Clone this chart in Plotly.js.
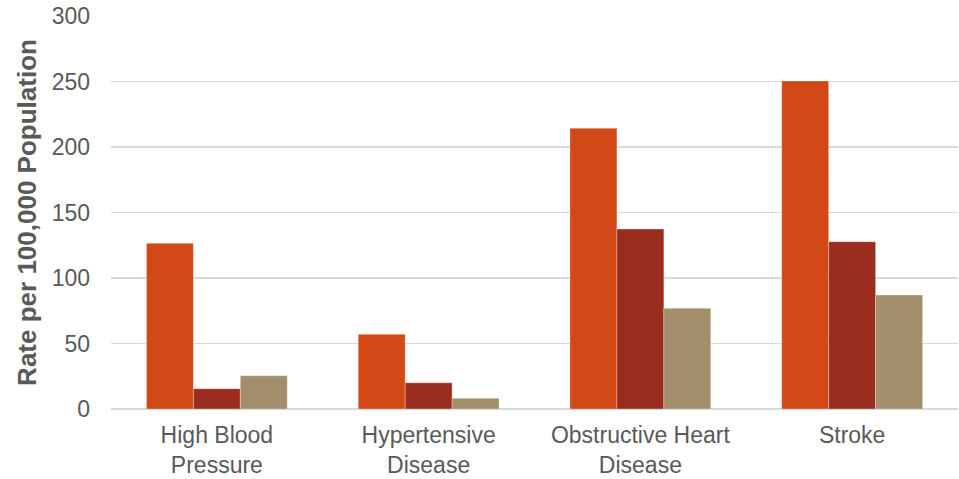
<!DOCTYPE html>
<html>
<head>
<meta charset="utf-8">
<script src="https://cdn.plot.ly/plotly-3.0.1.min.js"></script>
<style>html,body{margin:0;padding:0;background:#fff;}#chart{width:959px;height:479px;}</style>
</head>
<body>
<div id="chart"></div>
<script>
const categories = ["High Blood<br>Pressure", "Hypertensive<br>Disease", "Obstructive Heart<br>Disease", "Stroke"];
const series1 = [126.5, 57, 214.3, 250.4];
const series2 = [15.5, 20, 137.4, 127.7];
const series3 = [25.4, 8.2, 76.9, 87];
const colors = ["#D34817", "#9B2D1F", "#A28E6A"];
const yTickVals = [0, 50, 100, 150, 200, 250, 300];

const seriesList = [series1, series2, series3];
const traces = seriesList.map((vals, i) => ({
  type: "bar",
  x: categories,
  y: vals,
  marker: {color: colors[i], line: {color: "rgba(255,255,255,0.5)", width: 0.6}},
  hoverinfo: "y"
}));

const layout = {
  width: 959, height: 479,
  margin: {l: 111, r: 1, t: 16, b: 70},
  paper_bgcolor: "#ffffff", plot_bgcolor: "#ffffff",
  showlegend: false,
  barmode: "group",
  bargap: 0.335,
  bargroupgap: 0,
  font: {family: "Liberation Sans, Arial, sans-serif", color: "#595959", size: 23},
  xaxis: {
    showgrid: false, zeroline: false, showline: false, ticks: "",
    ticklabelstandoff: 10,
    tickfont: {size: 23, color: "#595959"}
  },
  yaxis: {
    range: [0, 300], tickvals: yTickVals, ticktext: yTickVals.map(String),
    showgrid: true, gridcolor: "#D9D9D9", gridwidth: 1.3,
    zeroline: true, zerolinecolor: "#D9D9D9", zerolinewidth: 1.3,
    showline: false, ticks: "",
    ticklabelstandoff: 20,
    tickfont: {size: 23, color: "#595959"},
    automargin: false,
    title: {text: "<b>Rate per 100,000 Population</b>", font: {size: 26, color: "#595959"}, standoff: 7}
  }
};

Plotly.newPlot("chart", traces, layout, {staticPlot: true});
</script>
</body>
</html>
